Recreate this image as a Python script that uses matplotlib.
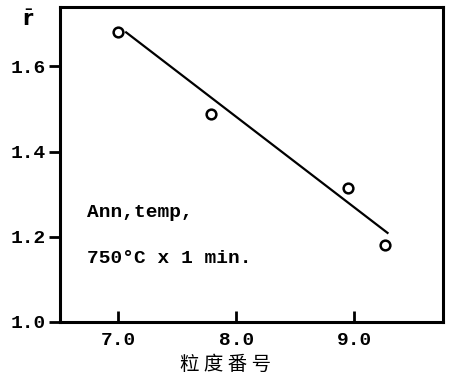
import numpy as np
import matplotlib
matplotlib.use("Agg")
import matplotlib.pyplot as plt

plt.rcParams['font.family'] = ['Liberation Mono', 'DejaVu Sans']

# Datos medidos
grano = [7.0, 7.79, 8.95, 9.26]
r_medio = [1.682, 1.489, 1.315, 1.181]

# Recta de ajuste (extremos)
recta_x = [7.07, 9.28]
recta_y = [1.68, 1.209]

xticks = [7.0, 8.0, 9.0]
xlabels = ["7.0", "8.0", "9.0"]
yticks = [1.0, 1.2, 1.4, 1.6]
ylabels = ["1.0", "1.2", "1.4", "1.6"]

fig = plt.figure(figsize=(4.54, 3.8), dpi=100)
ax = fig.add_axes([0.132, 0.153, 0.844, 0.829])

ax.plot(recta_x, recta_y, color="black", linewidth=1.6)
ax.plot(grano, r_medio, "o", markersize=7, markerfacecolor="white",
        markeredgecolor="black", markeredgewidth=1.8)

ax.set_xlim(6.51, 9.75)
ax.set_ylim(1.0, 1.74)
ax.set_xticks(xticks)
ax.set_xticklabels(xlabels, fontsize=14, fontweight="bold")
ax.set_yticks(yticks)
ax.set_yticklabels(ylabels, fontsize=14, fontweight="bold")
ax.tick_params(axis="x", direction="in", length=8, width=2, pad=7)
ax.tick_params(axis="y", direction="out", length=8, width=2, pad=2)
for s in ax.spines.values():
    s.set_linewidth(2.2)

ax.text(6.74, 1.256, "Ann,temp,", fontsize=14, fontweight="bold", va="center")
ax.text(6.74, 1.148, "750°C x 1 min.", fontsize=14, fontweight="bold", va="center")

fig.text(28 / 454, 1 - 20 / 380, r"$\bar{\mathbf{r}}$", fontsize=15,
         ha="center", va="center")
fig.text(226 / 454, 1 - 364 / 380, "粒 度 番 号", fontsize=14,
         family=['Noto Sans CJK SC', 'DejaVu Sans'], ha="center", va="center")

fig.savefig("out.png", dpi=100)
